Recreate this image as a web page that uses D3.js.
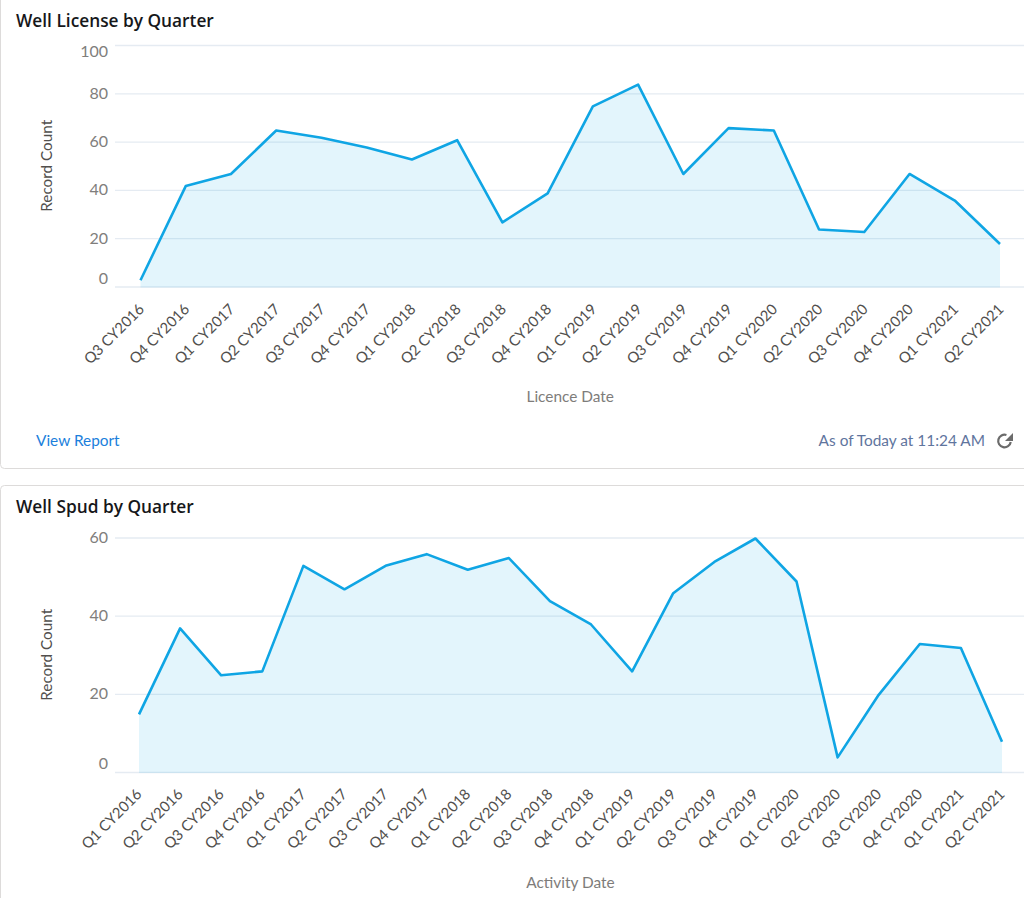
<!DOCTYPE html>
<html>
<head>
<meta charset="utf-8">
<script src="https://cdn.jsdelivr.net/npm/d3@7"></script>
<style>
  html, body { margin: 0; padding: 0; background: #fff; overflow: hidden; }
  svg { display: block; font-family: Lato, "Open Sans", sans-serif; }
  .domain { display: none; }
</style>
</head>
<body>
<script>
const licenseQuarters = ['Q3 CY2016', 'Q4 CY2016', 'Q1 CY2017', 'Q2 CY2017', 'Q3 CY2017', 'Q4 CY2017', 'Q1 CY2018', 'Q2 CY2018', 'Q3 CY2018', 'Q4 CY2018', 'Q1 CY2019', 'Q2 CY2019', 'Q3 CY2019', 'Q4 CY2019', 'Q1 CY2020', 'Q2 CY2020', 'Q3 CY2020', 'Q4 CY2020', 'Q1 CY2021', 'Q2 CY2021']
const licenseCounts = [3, 42, 47, 65, 62, 58, 53, 61, 27, 39, 75, 84, 47, 66, 65, 24, 23, 47, 36, 18]
const licenseTicks = [0, 20, 40, 60, 80, 100]

const spudQuarters = ['Q1 CY2016', 'Q2 CY2016', 'Q3 CY2016', 'Q4 CY2016', 'Q1 CY2017', 'Q2 CY2017', 'Q3 CY2017', 'Q4 CY2017', 'Q1 CY2018', 'Q2 CY2018', 'Q3 CY2018', 'Q4 CY2018', 'Q1 CY2019', 'Q2 CY2019', 'Q3 CY2019', 'Q4 CY2019', 'Q1 CY2020', 'Q2 CY2020', 'Q3 CY2020', 'Q4 CY2020', 'Q1 CY2021', 'Q2 CY2021']
const spudCounts = [15, 37, 25, 26, 53, 47, 53, 56, 52, 55, 44, 38, 26, 46, 54, 60, 49, 4, 20, 33, 32, 8]
const spudTicks = [0, 20, 40, 60]

const WIDTH = 1024
const HEIGHT = 898

const svg = d3.select('body')
  .append('svg')
  .attr('width', WIDTH)
  .attr('height', HEIGHT)
  .attr('viewBox', `0 0 ${WIDTH} ${HEIGHT}`)

// the two cards run off the top and right of the screenshot
function card(top, bottom) {
  svg.append('rect')
    .attr('x', 0.5)
    .attr('y', top)
    .attr('width', WIDTH + 20)
    .attr('height', bottom - top)
    .attr('rx', 4)
    .attr('fill', '#fff')
    .attr('stroke', '#dddbda')
}

function chart(opts) {
  const { quarters, counts, ticks, yMax, top, bottom, xFirst, xLast, title, titleY, xTitle, xTitleY, topLabelShift, labelShift } = opts

  const x = d3.scalePoint().domain(quarters).range([xFirst, xLast])
  const y = d3.scaleLinear().domain([0, yMax]).range([bottom, top])

  svg.append('text')
    .attr('x', 16)
    .attr('y', titleY)
    .attr('font-family', '"Open Sans", sans-serif')
    .attr('font-size', 17.3)
    .attr('font-weight', 600)
    .attr('fill', '#16171a')
    .text(title)

  const yAxis = svg.append('g')
    .attr('transform', 'translate(115,0)')
    .call(d3.axisLeft(y).tickValues(ticks).tickSize(0).tickPadding(7))
  yAxis.selectAll('text')
    .attr('font-family', 'Lato, "Open Sans", sans-serif')
    .attr('font-size', 16)
    .attr('fill', '#807e7c')
    .attr('dy', d => d === 0 ? '-0.27em' : d === yMax ? `${0.25 + topLabelShift / 16}em` : '0.25em')

  svg.append('g')
    .selectAll('line')
    .data(ticks)
    .join('line')
    .attr('x1', 115)
    .attr('x2', WIDTH)
    .attr('y1', d => y(d) - 0.5)
    .attr('y2', d => y(d) - 0.5)
    .attr('stroke', '#e5ebf2')
    .attr('stroke-width', 1.3)

  const area = d3.area()
    .x((d, i) => x(quarters[i]))
    .y0(y(0))
    .y1(d => y(d))

  const line = d3.line()
    .x((d, i) => x(quarters[i]))
    .y(d => y(d))

  svg.append('path')
    .attr('d', area(counts))
    .attr('fill', '#00a1e0')
    .attr('fill-opacity', 0.11)

  svg.append('path')
    .attr('d', line(counts))
    .attr('fill', 'none')
    .attr('stroke', '#0fa5e4')
    .attr('stroke-width', 2.6)
    .attr('stroke-linejoin', 'round')

  const xAxis = svg.append('g')
    .attr('transform', `translate(0,${bottom})`)
    .call(d3.axisBottom(x).tickSize(0))
  xAxis.selectAll('text')
    .attr('font-family', 'Lato, "Open Sans", sans-serif')
    .attr('font-size', 14.8)
    .attr('fill', '#514f4d')
    .attr('text-anchor', 'end')
    .attr('dy', 0)
    .attr('transform', `translate(${labelShift[0]},${labelShift[1]}) rotate(-45)`)

  svg.append('text')
    .attr('x', 47)
    .attr('y', (top + bottom) / 2)
    .attr('transform', `rotate(-90 47 ${(top + bottom) / 2 - 1})`)
    .attr('dy', 4)
    .attr('text-anchor', 'middle')
    .attr('font-size', 15.3)
    .attr('fill', '#514f4d')
    .text('Record Count')

  svg.append('text')
    .attr('x', (xFirst + xLast) / 2)
    .attr('y', xTitleY)
    .attr('text-anchor', 'middle')
    .attr('font-size', 15.4)
    .attr('fill', '#7e7c7a')
    .text(xTitle)
}

card(-10, 468.5)
card(485.5, 930)

chart({
  quarters: licenseQuarters,
  counts: licenseCounts,
  ticks: licenseTicks,
  yMax: 100,
  top: 46,
  bottom: 287.5,
  xFirst: 140.5,
  xLast: 1000,
  title: 'Well License by Quarter',
  titleY: 27,
  xTitle: 'Licence Date',
  xTitleY: 402,
  topLabelShift: 6,
  labelShift: [2, 20.5]
})

chart({
  quarters: spudQuarters,
  counts: spudCounts,
  ticks: spudTicks,
  yMax: 60,
  top: 538.5,
  bottom: 773,
  xFirst: 139,
  xLast: 1002,
  title: 'Well Spud by Quarter',
  titleY: 513,
  xTitle: 'Activity Date',
  xTitleY: 888,
  topLabelShift: 0,
  labelShift: [1, 20]
})

// footer of the first card
svg.append('text')
  .attr('x', 36)
  .attr('y', 445.5)
  .attr('font-size', 15.4)
  .attr('fill', '#1b7fdc')
  .text('View Report')

svg.append('text')
  .attr('x', 985)
  .attr('y', 445.5)
  .attr('text-anchor', 'end')
  .attr('font-size', 15.4)
  .attr('fill', '#5f759e')
  .text('As of Today at 11:24 AM')

// refresh icon
svg.append('path')
  .attr('transform', 'translate(1004.5,441)')
  .attr('d', d3.arc()({ innerRadius: 5.2, outerRadius: 7.4, startAngle: Math.PI * 0.55, endAngle: Math.PI * 2.1 }))
  .attr('fill', '#6b6b6b')
svg.append('path')
  .attr('d', 'M1013,433V441H1005Z')
  .attr('fill', '#6b6b6b')
</script>
</body>
</html>
